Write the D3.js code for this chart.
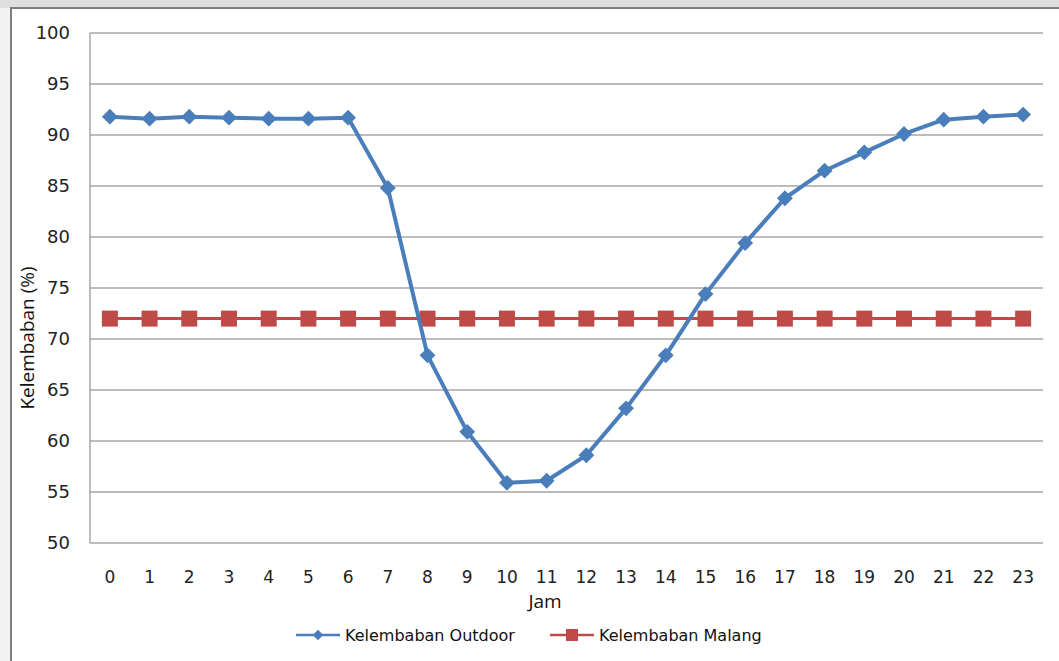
<!DOCTYPE html>
<html>
<head>
<meta charset="utf-8">
<script src="https://cdn.jsdelivr.net/npm/d3@7"></script>
<style>
  html, body { margin: 0; padding: 0; background: #ffffff; }
  svg { display: block; }
</style>
</head>
<body>
<svg id="chart" width="1059" height="661"></svg>
<script>
const hours = d3.range(0, 24).map(String);
const outdoor = [91.8, 91.6, 91.8, 91.7, 91.6, 91.6, 91.7, 84.8, 68.4, 60.9, 55.9, 56.1,
                 58.6, 63.2, 68.4, 74.4, 79.4, 83.8, 86.5, 88.3, 90.1, 91.5, 91.8, 92.0];
const malang = [72, 72, 72, 72, 72, 72, 72, 72, 72, 72, 72, 72,
                72, 72, 72, 72, 72, 72, 72, 72, 72, 72, 72, 72];
const yTicks = [50, 55, 60, 65, 70, 75, 80, 85, 90, 95, 100];
const seriesNames = ["Kelembaban Outdoor", "Kelembaban Malang"];
const xTitle = "Jam";
const yTitle = "Kelembaban (%)";

const svg = d3.select("#chart");
const W = 1059, H = 661;
const blue = "#4A7EBB", red = "#BE4B48";

// outer background / frame
svg.append("rect").attr("x", 0).attr("y", 0).attr("width", W).attr("height", H).attr("fill", "#dedede");
svg.append("rect").attr("x", 0).attr("y", 8).attr("width", 11).attr("height", H).attr("fill", "#f2f2f2");
svg.append("rect").attr("x", 11).attr("y", 8).attr("width", W - 11).attr("height", H - 8).attr("fill", "#ffffff");
svg.append("path").attr("d", `M11,${H} V8 H${W}`).attr("fill", "none").attr("stroke", "#7f7f7f").attr("stroke-width", 2);

const plot = { left: 90, right: 1043, top: 33, bottom: 543 };
const x = d3.scaleBand().domain(hours).range([plot.left, plot.right]);
const y = d3.scaleLinear().domain([50, 100]).range([plot.bottom, plot.top]);
const cx = d => x(d) + x.bandwidth() / 2;

// gridlines
svg.append("g").selectAll("line").data(yTicks).join("line")
  .attr("x1", plot.left).attr("x2", plot.right)
  .attr("y1", d => y(d)).attr("y2", d => y(d))
  .attr("stroke", "#a6a6a6").attr("stroke-width", 1.5);

// y axis line
svg.append("line").attr("x1", plot.left).attr("x2", plot.left)
  .attr("y1", plot.top).attr("y2", plot.bottom)
  .attr("stroke", "#a6a6a6").attr("stroke-width", 1.5);

// y axis labels
const yAxis = d3.axisLeft(y).tickValues(yTicks).tickSize(0).tickPadding(20);
const gy = svg.append("g").attr("transform", `translate(${plot.left},0)`).call(yAxis);
gy.select(".domain").remove();
gy.selectAll("text").attr("font-family", "DejaVu Sans, sans-serif").attr("font-size", 18).attr("fill", "#222");

// x axis labels
const xAxis = d3.axisBottom(x).tickSize(0).tickPadding(28);
const gx = svg.append("g").attr("transform", `translate(0,${plot.bottom})`).call(xAxis);
gx.select(".domain").remove();
gx.selectAll("text").attr("font-family", "DejaVu Sans, sans-serif").attr("font-size", 17).attr("fill", "#222");

// axis titles
svg.append("text").attr("x", 545).attr("y", 608).attr("text-anchor", "middle")
  .attr("font-family", "Open Sans, sans-serif").attr("font-size", 19).attr("fill", "#111").text(xTitle);
svg.append("text").attr("transform", "translate(34,338) rotate(-90)").attr("text-anchor", "middle")
  .attr("font-family", "Open Sans, sans-serif").attr("font-size", 19).attr("fill", "#111").text(yTitle);

const line = d3.line().x((d, i) => cx(hours[i])).y(d => y(d));

// Malang series
svg.append("path").datum(malang).attr("d", line).attr("fill", "none")
  .attr("stroke", red).attr("stroke-width", 3);
svg.append("g").selectAll("rect").data(malang).join("rect")
  .attr("x", (d, i) => cx(hours[i]) - 8).attr("y", d => y(d) - 8)
  .attr("width", 16).attr("height", 16).attr("fill", red);

// Outdoor series
svg.append("path").datum(outdoor).attr("d", line).attr("fill", "none")
  .attr("stroke", blue).attr("stroke-width", 4).attr("stroke-linejoin", "round");
const diamond = d3.symbol().type(d3.symbolDiamond2).size(160);
svg.append("g").selectAll("path").data(outdoor).join("path")
  .attr("transform", (d, i) => `translate(${cx(hours[i])},${y(d)})`)
  .attr("d", diamond).attr("fill", blue);

// legend
const legY = 635;
const leg = svg.append("g");
const legendItems = [
  { name: seriesNames[0], color: blue, x0: 296, type: "diamond" },
  { name: seriesNames[1], color: red, x0: 550, type: "square" }
];
legendItems.forEach(it => {
  leg.append("line").attr("x1", it.x0).attr("x2", it.x0 + 44).attr("y1", legY).attr("y2", legY)
    .attr("stroke", it.color).attr("stroke-width", 2.5);
  if (it.type === "diamond") {
    leg.append("path").attr("transform", `translate(${it.x0 + 22},${legY})`)
      .attr("d", d3.symbol().type(d3.symbolDiamond2).size(70)).attr("fill", it.color);
  } else {
    leg.append("rect").attr("x", it.x0 + 22 - 6).attr("y", legY - 6).attr("width", 12).attr("height", 12).attr("fill", it.color);
  }
  leg.append("text").attr("x", it.x0 + 49).attr("y", legY + 6)
    .attr("font-family", "DejaVu Sans, sans-serif").attr("font-size", 16).attr("fill", "#111").text(it.name);
});
</script>
</body>
</html>
